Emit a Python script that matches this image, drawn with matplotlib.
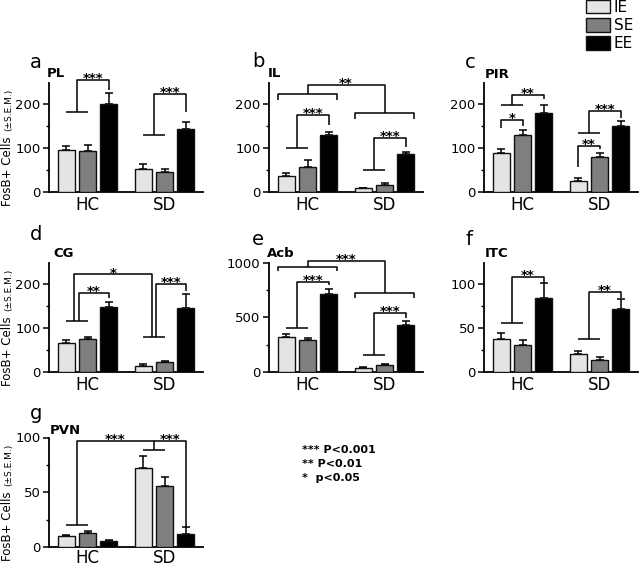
import matplotlib
matplotlib.use("Agg")
import matplotlib.pyplot as plt
import matplotlib.transforms as mtransforms
from matplotlib.patches import Patch
import numpy as np

# regions / panels
regions = ['PL', 'IL', 'PIR', 'CG', 'Acb', 'ITC', 'PVN']
letters = ['a', 'b', 'c', 'd', 'e', 'f', 'g']
groups = ['HC', 'SD']
conditions = ['IE', 'SE', 'EE']

# mean values (HC, SD) for each region
ie_mean = [(97, 53), (37, 8), (89, 26), (66, 14), (318, 36), (38, 20), (10, 72)]
se_mean = [(93, 45), (58, 17), (130, 80), (76, 23), (288, 61), (31, 14), (12.5, 56)]
ee_mean = [(200, 143), (131, 87), (180, 151), (149, 146), (712, 427), (84, 72), (5.5, 12)]
# s.e.m. (upper error only)
ie_sem = [(8, 10), (6, 2), (10, 5), (6, 5), (30, 6), (6, 4), (1, 11)]
se_sem = [(15, 8), (15, 3), (12, 9), (4, 3), (18, 12), (5, 3), (2.5, 8)]
ee_sem = [(25, 17), (6, 5), (18, 10), (10, 31), (43, 43), (18, 11), (1, 6)]

ymax = [250, 250, 250, 250, 1000, 125, 100]
major_step = [100, 100, 100, 100, 500, 50, 50]

colors = ['#e4e4e4', '#7f7f7f', '#000000']
off = 0.273
width = 0.22

# significance brackets, x in group units (HC=0, SD=1)
# ('span', x1, x2, y, tick_bottom) / ('link', x_from, y_from, y_top, x_to, y_to, stars)
h = off / 2
brackets = [
    [('span', -off, 0, 182, None), ('link', -h, 182, 256, off, 234, '***'),
     ('span', 1 - off, 1, 129, None), ('link', 1 - h, 129, 223, 1 + off, 182, '***')],
    [('span', -0.38, 0.38, 224, 211), ('span', 0.62, 1.38, 181, 167),
     ('link', 0, 224, 244, 1, 181, '**'),
     ('span', -off, 0, 101, None), ('link', -h, 101, 175, off, 154, '***'),
     ('span', 1 - off, 1, 50, None), ('link', 1 - h, 50, 123, 1 + off, 103, '***')],
    [('link', -off, 145, 164, 0, 151, '*'),
     ('span', -off, 0, 198, None), ('link', -h, 198, 221, off, 213, '**'),
     ('link', 1 - off, 58, 106, 1, 98, '**'),
     ('span', 1 - off, 1, 134, None), ('link', 1 - h, 134, 185, 1 + off, 168, '***')],
    [('span', -off, 0, 117, None), ('span', 1 - off, 1, 79.5, None),
     ('link', -h - 0.04, 117, 222.7, 1 - h - 0.02, 79.5, '*'),
     ('link', -h + 0.03, 117, 181, off, 170, '**'),
     ('link', 1 - h + 0.03, 79.5, 200, 1 + off, 185, '***')],
    [('span', -0.38, 0.38, 960, 921), ('span', 0.62, 1.38, 718, 673),
     ('link', 0, 960, 1015, 1, 718, '***'),
     ('span', -off, 0, 406, None), ('link', -h, 406, 824, off, 794, '***'),
     ('span', 1 - off, 1, 158, None), ('link', 1 - h, 158, 542, 1 + off, 491, '***')],
    [('span', -off, 0, 55.5, None), ('link', -h, 55.5, 108, off, 101.5, '**'),
     ('span', 1 - off, 1, 37.7, None), ('link', 1 - h, 37.7, 91, 1 + off, 84, '**')],
    [('span', -off, 0, 20, None), ('span', 1 - off, 1, 88.4, None),
     ('link', -h, 20, 96.7, 1 - h, 88.4, '***'),
     ('link', 1 - h, 96.7, 96.7, 1 + off, 17, '***')],
]

W, H = 640, 567
# axes placement in pixels: (left, bottom-from-top)
ax_px = [(49, 192), (269, 192), (484, 192), (49, 372), (269, 372), (484, 372), (49, 547)]
letter_px = [(30, 68), (252, 67), (465, 68), (30, 240), (252, 245), (465, 245), (30, 419)]
title_px = [(47, 77), (268, 77), (485, 78), (53, 257), (267, 257), (485, 257), (50, 434)]


def draw_bracket(ax, b):
    kw = dict(color='black', lw=1.1, clip_on=False, solid_capstyle='butt')
    if b[0] == 'span':
        _, x1, x2, y, tick = b
        if tick is None:
            ax.plot([x1, x2], [y, y], **kw)
        else:
            ax.plot([x1, x1, x2, x2], [tick, y, y, tick], **kw)
    else:
        _, xa, ya, ytop, xb, yb, stars = b
        ax.plot([xa, xa, xb, xb], [ya, ytop, ytop, yb], **kw)
        ax.annotate(stars, ((xa + xb) / 2, ytop), xytext=(0, -1.5),
                    textcoords='offset points', ha='center', va='baseline',
                    fontsize=9.5, fontweight='bold', annotation_clip=False)


fig = plt.figure(figsize=(6.4, 5.67), dpi=100)
fig.patch.set_facecolor('white')

for i in range(7):
    left, bot = ax_px[i]
    ax = fig.add_axes([left / W, (H - bot) / H, 154 / W, 109.5 / H])
    means = [ie_mean[i], se_mean[i], ee_mean[i]]
    sems = [ie_sem[i], se_sem[i], ee_sem[i]]
    x = np.arange(len(groups))
    for k in range(3):
        xs = x + (k - 1) * off
        ax.bar(xs, means[k], width, color=colors[k], edgecolor='#111111', lw=1.0, zorder=3)
        ax.errorbar(xs, means[k], yerr=[np.zeros(2), sems[k]], fmt='none',
                    ecolor='black', elinewidth=1.1, capsize=3, capthick=1.1, zorder=2)
    ax.set_xlim(-0.5, 1.5)
    ax.set_ylim(0, ymax[i])
    ax.set_yticks(np.arange(0, ymax[i] + 1, major_step[i]))
    ax.set_yticks(np.arange(major_step[i] / 2, ymax[i], major_step[i]), minor=True)
    ax.set_xticks(x)
    ax.set_xticklabels(groups, fontsize=12)
    ax.tick_params(axis='x', length=0, pad=1.5 if i == 6 else 3)
    ax.tick_params(axis='y', which='major', length=4, width=1.1, labelsize=9.5, pad=2)
    ax.tick_params(axis='y', which='minor', length=2.5, width=1.0)
    for s in ['top', 'right']:
        ax.spines[s].set_visible(False)
    for s in ['left', 'bottom']:
        ax.spines[s].set_linewidth(1.3)
    for b in brackets[i]:
        draw_bracket(ax, b)

    lx, ly = letter_px[i]
    fig.text(lx / W, 1 - ly / H, letters[i], fontsize=14, ha='left', va='baseline')
    tx, ty = title_px[i]
    fig.text(tx / W, 1 - ty / H, regions[i], fontsize=9.5, fontweight='bold',
             ha='left', va='baseline')

    if i in (0, 3, 6):
        tr = mtransforms.blended_transform_factory(fig.transFigure, ax.transAxes)
        fig.text(8 / W, -0.13, 'FosB+ Cells', rotation=90, fontsize=8.5,
                 ha='center', va='bottom', transform=tr)
        fig.text(8.5 / W, 0.56, '(\u00b1S.E.M.)', rotation=90, fontsize=6.5,
                 ha='center', va='bottom', transform=tr)

handles = [Patch(facecolor=colors[k], edgecolor='#111111', lw=1.0) for k in range(3)]
fig.legend(handles, conditions, loc='upper left', bbox_to_anchor=(586 / W, 1.0),
           frameon=False, fontsize=11, handlelength=1.57, handleheight=0.98,
           labelspacing=0.21, handletextpad=0.25, borderpad=0, borderaxespad=0)

pvals = ['*** P<0.001', '** P<0.01', '*  p<0.05']
for j, (t, yb) in enumerate(zip(pvals, [453, 467, 481])):
    fig.text(302 / W, 1 - yb / H, t, fontsize=8, fontweight='bold', ha='left', va='baseline')

fig.savefig('out.png', dpi=100)
